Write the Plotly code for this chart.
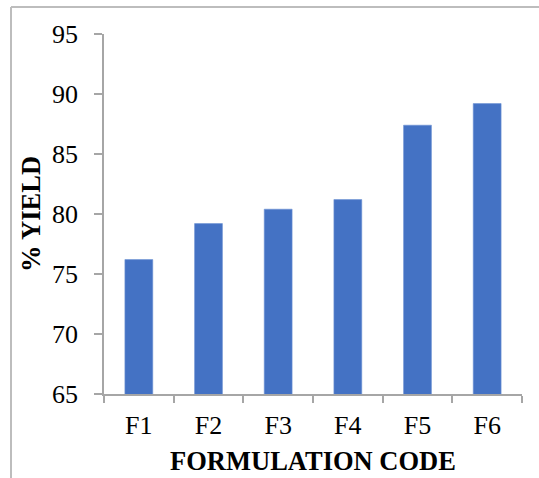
import plotly.graph_objects as go

categories = ["F1", "F2", "F3", "F4", "F5", "F6"]
yield_pct = [76.2, 79.2, 80.4, 81.2, 87.4, 89.2]
y_ticks = [65, 70, 75, 80, 85, 90, 95]

FONT = "Liberation Serif, Times New Roman, serif"
AXIS_COLOR = "#a6a6a6"

fig = go.Figure(
    go.Bar(
        x=categories,
        y=yield_pct,
        marker=dict(color="#4472C4", line=dict(color="#6f93d3", width=0.6)),
        width=0.4,
    )
)

fig.update_layout(
    width=539,
    height=478,
    margin=dict(l=104, r=17, t=34, b=84),
    paper_bgcolor="white",
    plot_bgcolor="white",
    showlegend=False,
    font=dict(family=FONT, color="black", size=26),
)

fig.update_xaxes(
    automargin=False,
    showline=True,
    linecolor=AXIS_COLOR,
    linewidth=1.5,
    ticks="outside",
    tickson="boundaries",
    ticklen=7,
    tickcolor=AXIS_COLOR,
    tickwidth=1.5,
    showgrid=False,
    tickfont=dict(family=FONT, size=26, color="black"),
    ticklabelstandoff=7,
    title=dict(
        text="<b>FORMULATION CODE</b>",
        font=dict(family=FONT, size=26.5, color="black"),
        standoff=12,
    ),
)

fig.update_yaxes(
    automargin=False,
    range=[65, 95],
    tickvals=y_ticks,
    showline=True,
    linecolor=AXIS_COLOR,
    linewidth=1.5,
    ticks="outside",
    ticklen=8,
    tickcolor=AXIS_COLOR,
    tickwidth=1.5,
    showgrid=False,
    zeroline=False,
    tickfont=dict(family=FONT, size=26, color="black"),
    ticklabelstandoff=11,
    title=dict(
        text="<b>% YIELD</b>",
        font=dict(family=FONT, size=26.5, color="black"),
        standoff=4,
    ),
)

# light gray frame lines (left and top) as in the source image
fig.add_shape(type="line", xref="paper", yref="paper",
              x0=-0.2225, x1=-0.2225, y0=1.075, y1=-0.25,
              line=dict(color="#bdbdbd", width=2))
fig.add_shape(type="line", xref="paper", yref="paper",
              x0=-0.2225, x1=1.05, y0=1.075, y1=1.075,
              line=dict(color="#bdbdbd", width=2))

fig.write_html("out.html")
